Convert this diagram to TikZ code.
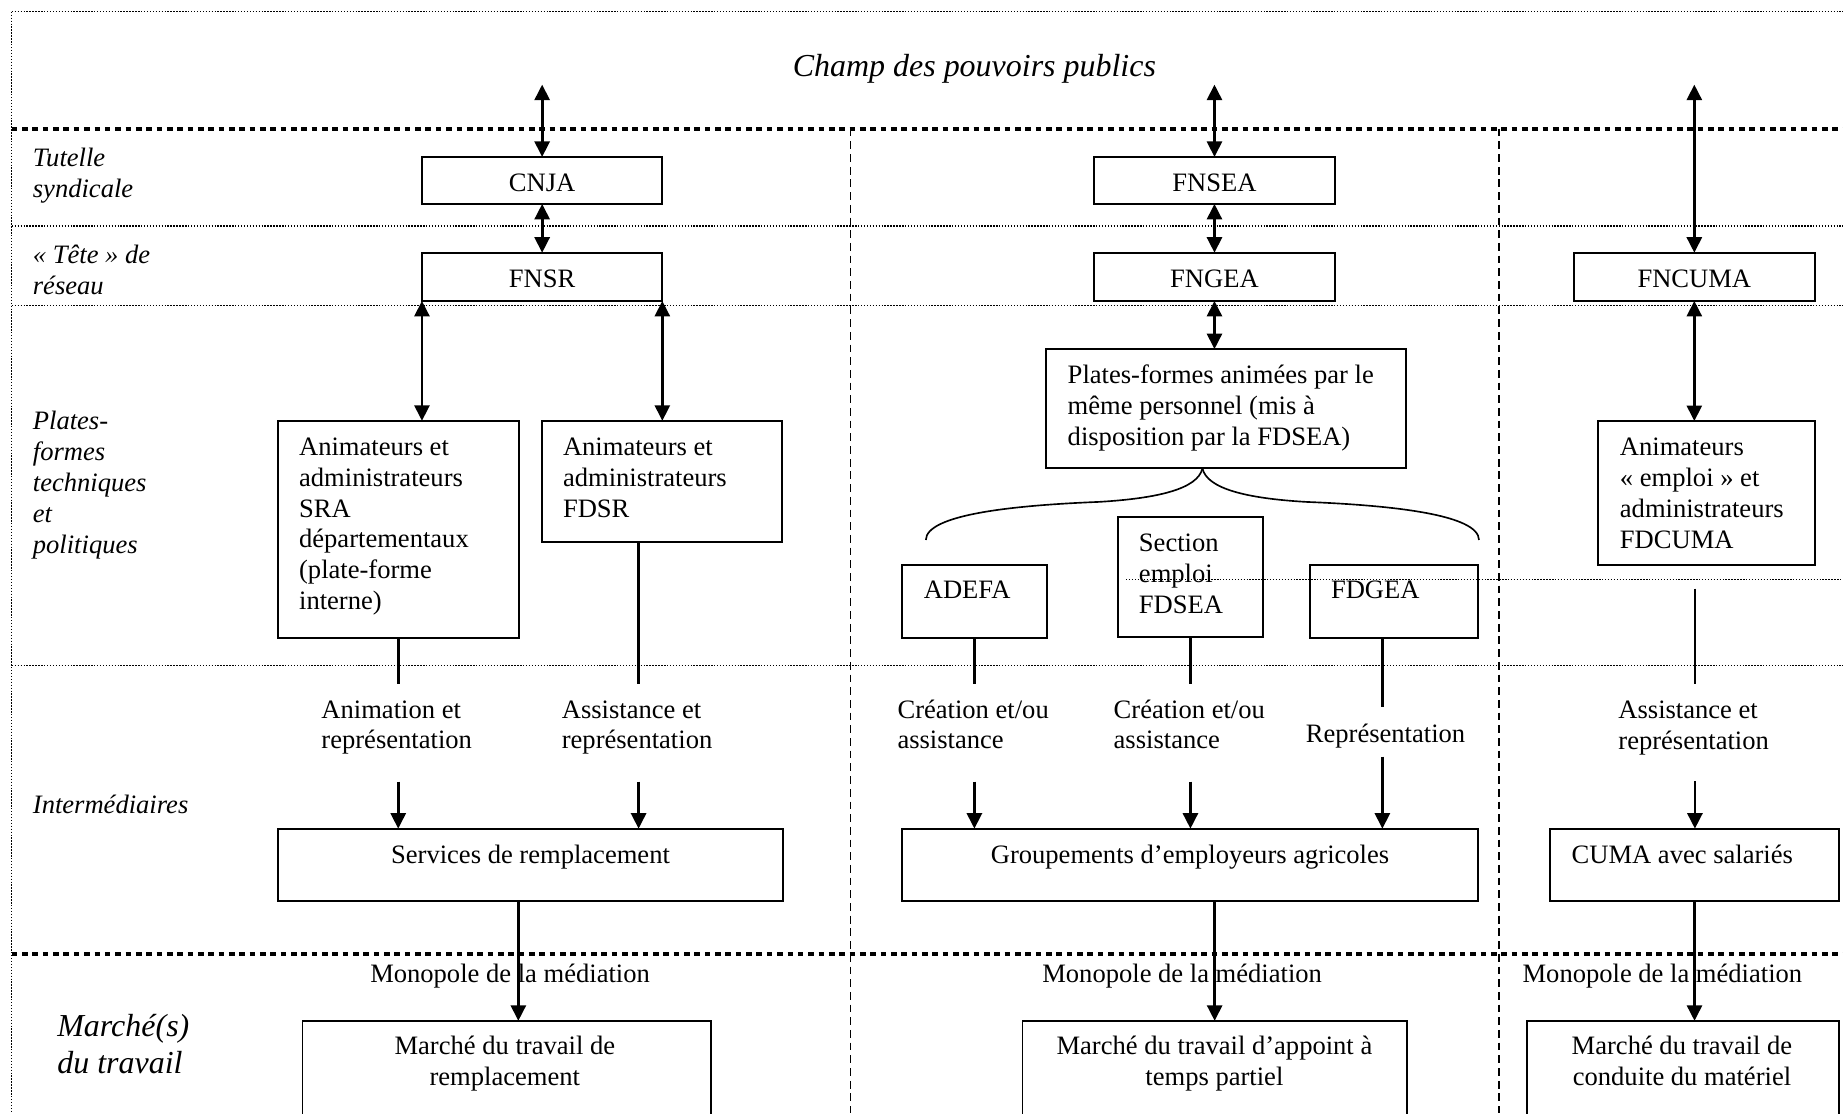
\documentclass[tikz,border=0pt]{standalone}
\usepackage{fontspec}
\setmainfont{Liberation Serif}
\usetikzlibrary{arrows.meta}
\newcommand\mlL[1]{\begin{tabular}[t]{@{}l@{}}#1\end{tabular}}
\newcommand\mlC[1]{\begin{tabular}[t]{@{}c@{}}#1\end{tabular}}
\begin{document}
\begin{tikzpicture}[x=0.5pt,y=-0.5pt,
  every node/.style={inner sep=0pt, outer sep=0pt, font=\fontsize{11.3}{13.1}\selectfont},
  box/.style={draw, line width=0.8pt, rectangle},
  onebox/.style={box, text height=9.5pt, text depth=0pt},
  txt/.style={anchor=base west},
  ctxt/.style={anchor=base},
  rowlab/.style={anchor=base west, font=\fontsize{11.3}{13.1}\selectfont\itshape},
  biglab/.style={font=\fontsize{13.6}{15.5}\selectfont\itshape},
  thindot/.style={line width=0.5pt, dash pattern=on 0.6pt off 0.65pt},
  thickdot/.style={line width=1.7pt, dash pattern=on 2.4pt off 2.0pt},
  vdash/.style={line width=0.65pt, dash pattern=on 3.3pt off 2.1pt},
  ln/.style={line width=1.15pt},
  sarr/.style={line width=1.15pt, -{Triangle[length=6.6pt,width=6.4pt]}},
  dbl/.style={line width=1.15pt, {Triangle[length=6.6pt,width=6.4pt]}-{Triangle[length=6.6pt,width=6.4pt]}},
  brace/.style={line width=0.7pt}
]
\useasboundingbox (0,0) rectangle (1568,947);
\clip (0,0) rectangle (1568,947);

% ---- grid lines
\draw[thindot] (10,10) -- (1568,10);
\draw[thindot] (10,10) -- (10,947);
\draw[thickdot] (10,109.5) -- (1568,109.5);
\draw[thickdot] (10,812) -- (1568,812);
\draw[thindot] (10,192.3) -- (1568,192.3);
\draw[thindot] (10,260) -- (1568,260);
\draw[thindot] (10,566.5) -- (1568,566.5);
\draw[thindot] (958,493) -- (1568,493);
\draw[vdash] (723.5,109.5) -- (723.5,947);
\draw[vdash] (1275.3,109.5) -- (1275.3,947);

% ---- title and row labels
\node[biglab, anchor=base] (title) at (829,65.2) {Champ des pouvoirs publics};
\node[rowlab] (rl1) at (28,142) {\mlL{Tutelle\\syndicale}};
\node[rowlab] (rl2) at (28,224) {\mlL{« Tête » de\\réseau}};
\node[rowlab] (rl3) at (28,365.8) {\mlL{Plates-\\formes\\techniques\\et\\politiques}};
\node[rowlab] (rl4) at (28,692) {Intermédiaires};
\node[biglab, anchor=base west] (rl5) at (48.8,882) {\mlL{Marché(s)\\du travail}};

% ---- boxes
\node[onebox, minimum width=102.25pt, minimum height=20pt] (cnja) at (461.25,153.5) {CNJA};
\node[onebox, minimum width=102.25pt, minimum height=20.5pt] (fnsr) at (461.25,235.5) {FNSR};
\node[onebox, minimum width=102.25pt, minimum height=20pt] (fnsea) at (1033.25,153.5) {FNSEA};
\node[onebox, minimum width=102.25pt, minimum height=20.5pt] (fngea) at (1033.25,235.5) {FNGEA};
\node[onebox, minimum width=102.5pt, minimum height=20.5pt] (fncuma) at (1441.5,235.5) {FNCUMA};

\node[box, minimum width=102.4pt, minimum height=92.25pt] (sra) at (338.8,450.25) {};
\node[box, minimum width=102pt, minimum height=51.5pt] (fdsr) at (563,409.5) {};
\node[box, minimum width=153.4pt, minimum height=50.75pt] (plat) at (1043.1,347.75) {};
\node[box, minimum width=61.6pt, minimum height=30.9pt] (adefa) at (829,511.6) {};
\node[box, minimum width=61.4pt, minimum height=51.2pt] (section) at (1012.8,490.8) {};
\node[box, minimum width=71.6pt, minimum height=30.9pt] (fdgea) at (1185.9,511.6) {};
\node[box, minimum width=92.2pt, minimum height=61.35pt] (fdcuma) at (1452,419.55) {};

\node[box, minimum width=214.95pt, minimum height=30.75pt] (serv) at (451.35,735.75) {};
\node[box, minimum width=245.05pt, minimum height=30.75pt] (grp) at (1012.45,735.75) {};
\node[box, minimum width=122.95pt, minimum height=30.75pt] (cuma) at (1441.65,735.75) {};

\node[box, minimum width=173.6pt, minimum height=45.75pt] (mrem) at (431,914.25) {};
\node[box, minimum width=163.55pt, minimum height=45.75pt] (mapp) at (1033.45,914.25) {};
\node[box, minimum width=132.9pt, minimum height=45.75pt] (mcond) at (1431.7,914.25) {};

% ---- box texts
\node[txt] (sraT) at (254.5,387.5) {\mlL{Animateurs et\\administrateurs\\SRA\\départementaux\\(plate-forme\\interne)}};
\node[txt] (fdsrT) at (479,387.5) {\mlL{Animateurs et\\administrateurs\\FDSR}};
\node[txt] (platT) at (908.4,326.5) {\mlL{Plates-formes animées par le\\même personnel (mis à\\disposition par la FDSEA)}};
\node[txt] (adefaT) at (786,509.6) {ADEFA};
\node[txt] (sectionT) at (969,469.3) {\mlL{Section\\emploi\\FDSEA}};
\node[txt] (fdgeaT) at (1132.4,509.6) {FDGEA};
\node[txt] (fdcumaT) at (1378.2,387.8) {\mlL{Animateurs\\« emploi » et\\administrateurs\\FDCUMA}};
\node[ctxt] (servT) at (451.35,734.3) {Services de remplacement};
\node[ctxt] (grpT) at (1012.45,734.3) {Groupements d’employeurs agricoles};
\node[txt] (cumaT) at (1337.1,734.3) {CUMA avec salariés};
\node[ctxt] (mremT) at (429.5,897.5) {\mlC{Marché du travail de\\remplacement}};
\node[ctxt] (mappT) at (1033.2,897.5) {\mlC{Marché du travail d’appoint à\\temps partiel}};
\node[ctxt] (mcondT) at (1431,897.5) {\mlC{Marché du travail de\\conduite du matériel}};

% ---- free labels
\node[txt] (anim) at (273.5,611) {\mlL{Animation et\\représentation}};
\node[txt] (assist1) at (478,611) {\mlL{Assistance et\\représentation}};
\node[txt] (crea1) at (763.6,611) {\mlL{Création et/ou\\assistance}};
\node[txt] (crea2) at (947.5,611) {\mlL{Création et/ou\\assistance}};
\node[txt] (repr) at (1111,631.8) {Représentation};
\node[txt] (assist2) at (1376.9,611.5) {\mlL{Assistance et\\représentation}};
\node[txt] (mono1) at (315,835.5) {Monopole de la médiation};
\node[txt] (mono2) at (886.8,835.5) {Monopole de la médiation};
\node[txt] (mono3) at (1295.4,835.5) {Monopole de la médiation};

% ---- top double arrows
\coordinate (t1) at (461.25,72);
\coordinate (t2) at (1033.25,72);
\coordinate (t3) at (1441.5,72);
\draw[dbl] (t1) -- (cnja.north);
\draw[dbl] (t2) -- (fnsea.north);
\draw[dbl] (t3) -- (fncuma.north);
\draw[dbl] (cnja.south) -- (fnsr.north);
\draw[dbl] (fnsea.south) -- (fngea.north);
\draw[dbl] (fngea.south) -- (fngea.south |- plat.north);
\draw[dbl] (fnsr.south west) -- (fnsr.south west |- sra.north);
\draw[dbl] (fnsr.south east) -- (fnsr.south east |- fdsr.north);
\draw[dbl] (fncuma.south) -- (fncuma.south |- fdcuma.north);

% ---- brace
\draw[brace] (plat.south -| 1023,0) .. controls (1019,416) and (985,424) .. (935,427)
  .. controls (860,430) and (788,438) .. (787.7,459.4);
\draw[brace] (plat.south -| 1023,0) .. controls (1027,416) and (1061,424) .. (1111,427)
  .. controls (1186,430) and (1258,438) .. (1258.3,459.4);

% ---- lines from platforms to labels
\coordinate (e1) at (338.8,582.2);
\coordinate (e2) at (543.3,582.2);
\coordinate (e3) at (829,582.2);
\coordinate (e4) at (1012.8,582.2);
\coordinate (e5) at (1176.1,601.8);
\coordinate (e6s) at (1442,500.7);
\coordinate (e6) at (1442,582.3);
\draw[ln] (e1 |- sra.south) -- (e1);
\draw[ln] (e2 |- fdsr.south) -- (e2);
\draw[ln] (e3 |- adefa.south) -- (e3);
\draw[ln] (e4 |- section.south) -- (e4);
\draw[ln] (e5 |- fdgea.south) -- (e5);
\draw[ln] (e6s) -- (e6);

% ---- arrows into intermediaries
\coordinate (s1) at (338.8,665);
\coordinate (s2) at (543.3,665);
\coordinate (s3) at (829,665);
\coordinate (s4) at (1012.8,665);
\coordinate (s5) at (1176.1,643.8);
\coordinate (s6) at (1442,664.6);
\draw[sarr] (s1) -- (s1 |- serv.north);
\draw[sarr] (s2) -- (s2 |- serv.north);
\draw[sarr] (s3) -- (s3 |- grp.north);
\draw[sarr] (s4) -- (s4 |- grp.north);
\draw[sarr] (s5) -- (s5 |- grp.north);
\draw[sarr] (s6) -- (s6 |- cuma.north);

% ---- arrows to markets
\coordinate (m1) at (441,0);
\coordinate (m2) at (1033.4,0);
\coordinate (m3) at (1441.65,0);
\draw[sarr] (m1 |- serv.south) -- (m1 |- mrem.north);
\draw[sarr] (m2 |- grp.south) -- (m2 |- mapp.north);
\draw[sarr] (m3 |- cuma.south) -- (m3 |- mcond.north);
\end{tikzpicture}
\end{document}
